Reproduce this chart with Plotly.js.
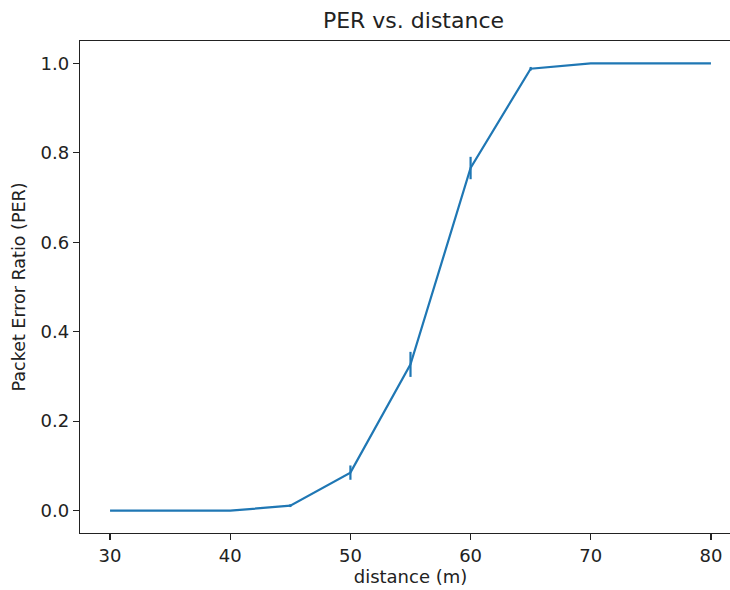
<!DOCTYPE html>
<html>
<head>
<meta charset="utf-8">
<script src="https://cdn.plot.ly/plotly-3.0.1.min.js"></script>
<style>
html, body { margin: 0; padding: 0; overflow: hidden; background: #fff; width: 730px; height: 590px; }
#chart { width: 745px; height: 590px; }
</style>
</head>
<body>
<div id="chart"></div>
<script>
const distance = [30, 35, 40, 45, 50, 55, 60, 65, 70, 75, 80];
const per = [0, 0, 0, 0.011, 0.085, 0.327, 0.766, 0.988, 1, 1, 1];
const perErr = [0, 0, 0, 0.003, 0.016, 0.028, 0.025, 0.004, 0, 0, 0];
const xTicks = [30, 40, 50, 60, 70, 80];
const yTicks = [0, 0.2, 0.4, 0.6, 0.8, 1.0];
const yTickText = ['0.0', '0.2', '0.4', '0.6', '0.8', '1.0'];

const font = 'DejaVu Sans, sans-serif';
const trace = {
  x: distance,
  y: per,
  type: 'scatter',
  mode: 'lines',
  line: { color: '#1f77b4', width: 2.2 },
  error_y: { type: 'data', array: perErr, visible: true, color: '#1f77b4', thickness: 2.2, width: 0 },
  hoverinfo: 'x+y'
};
const layout = {
  width: 745,
  height: 590,
  margin: { l: 80, r: 4, t: 41, b: 57 },
  paper_bgcolor: '#ffffff',
  plot_bgcolor: '#ffffff',
  showlegend: false,
  font: { family: font, color: '#222', size: 18 },
  title: { text: 'PER vs. distance', font: { family: font, size: 22, color: '#222' }, x: 0.555, xanchor: 'center', y: 0.966, yanchor: 'middle', yref: 'container' },
  xaxis: {
    range: [27.5, 82.5],
    tickvals: xTicks,
    ticktext: xTicks.map(String),
    ticks: 'outside', ticklen: 6, tickwidth: 1.2, tickcolor: '#222',
    showline: true, linecolor: '#222', linewidth: 1.3, mirror: true,
    showgrid: false, zeroline: false,
    tickfont: { family: font, size: 18, color: '#222' },
    title: { text: 'distance (m)', font: { family: font, size: 18, color: '#222' }, standoff: 4 }
  },
  yaxis: {
    range: [-0.05, 1.05],
    tickvals: yTicks,
    ticktext: yTickText,
    ticks: 'outside', ticklen: 6, tickwidth: 1.2, tickcolor: '#222',
    showline: true, linecolor: '#222', linewidth: 1.3, mirror: true,
    showgrid: false, zeroline: false,
    tickfont: { family: font, size: 18, color: '#222' },
    title: { text: 'Packet Error Ratio (PER)', font: { family: font, size: 17.5, color: '#222' }, standoff: 10 }
  }
};
Plotly.newPlot('chart', [trace], layout, { displayModeBar: false, staticPlot: true });
</script>
</body>
</html>
